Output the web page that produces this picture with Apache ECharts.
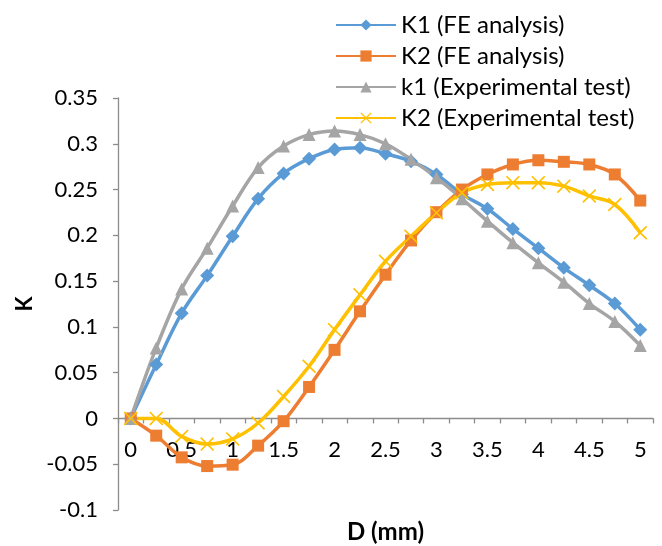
<!DOCTYPE html>
<html>
<head>
<meta charset="utf-8">
<script src="https://cdn.jsdelivr.net/npm/echarts@6/dist/echarts.min.js"></script>
<style>
  html, body { margin: 0; padding: 0; background: #fff; }
  #chart { width: 662px; height: 546px; }
</style>
</head>
<body>
<div id="chart"></div>
<script>
// Displacement D (mm), one category per 0.25 mm
const categories = ['0', '0.25', '0.5', '0.75', '1', '1.25', '1.5', '1.75', '2', '2.25', '2.5',
  '2.75', '3', '3.25', '3.5', '3.75', '4', '4.25', '4.5', '4.75', '5'];

const seriesNames = ['K1 (FE analysis)', 'K2 (FE analysis)', 'k1 (Experimental test)', 'K2 (Experimental test)'];

const k1Fe = [0, 0.0588, 0.115, 0.156, 0.199, 0.240, 0.2676, 0.2837, 0.2938, 0.2957, 0.289,
  0.281, 0.2665, 0.245, 0.229, 0.207, 0.186, 0.1645, 0.1455, 0.1255, 0.097];
const k2Fe = [0, -0.0188, -0.0425, -0.052, -0.0505, -0.0297, -0.003, 0.0344, 0.0749, 0.117, 0.157,
  0.1944, 0.2253, 0.250, 0.2665, 0.2774, 0.282, 0.2803, 0.2774, 0.2665, 0.238];
const k1Exp = [0, 0.077, 0.1415, 0.186, 0.232, 0.274, 0.2975, 0.310, 0.314, 0.310, 0.300,
  0.283, 0.263, 0.240, 0.2155, 0.192, 0.170, 0.1488, 0.1255, 0.106, 0.0796];
const k2Exp = [0, 0.000, -0.0196, -0.028, -0.0224, -0.005, 0.024, 0.057, 0.097, 0.135, 0.1717,
  0.199, 0.2246, 0.2465, 0.2555, 0.2575, 0.2575, 0.2537, 0.243, 0.2337, 0.2028];

const colors = ['#5B9BD5', '#ED7D31', '#A5A5A5', '#FFC000'];
const FONT = 'Lato';

// thin filled cross used as the "x" marker
const crossPath = 'path://M0,1 L1,0 L6,5 L11,0 L12,1 L7,6 L12,11 L11,12 L6,7 L1,12 L0,11 L5,6 Z';

function lineSeries(name, data, color, symbol, size) {
  return {
    name: name,
    type: 'line',
    data: data,
    smooth: 0.35,
    symbol: symbol,
    symbolSize: size,
    showAllSymbol: true,
    lineStyle: { color: color, width: 3.5 },
    itemStyle: { color: color },
    emphasis: { disabled: true },
    animation: false
  };
}

const chart = echarts.init(document.getElementById('chart'), null, { renderer: 'canvas' });

chart.setOption({
  backgroundColor: '#fff',
  color: colors,
  textStyle: { fontFamily: FONT },
  grid: { left: 118, right: 9, top: 98, bottom: 36, containLabel: false, outerBoundsMode: 'none' },
  legend: {
    orient: 'vertical',
    left: 330,
    top: 8,
    itemWidth: 60,
    itemHeight: 14,
    itemGap: 7,
    data: seriesNames,
    textStyle: { fontFamily: FONT, fontSize: 24, lineHeight: 24, color: '#000' }
  },
  xAxis: {
    type: 'category',
    data: categories,
    boundaryGap: true,
    name: 'D (mm)',
    nameLocation: 'middle',
    nameGap: 10,
    nameTextStyle: { fontFamily: FONT, fontSize: 24, fontWeight: 'bold', color: '#000' },
    axisLine: { onZero: true, lineStyle: { color: '#8C8C8C', width: 1.3 } },
    axisTick: { show: true, interval: 0, length: 5, lineStyle: { color: '#8C8C8C', width: 1.3 } },
    // tick labels sit just under the zero line
    axisLabel: { interval: 1, margin: -71, fontFamily: FONT, fontSize: 22, color: '#000' },
    splitLine: { show: false }
  },
  yAxis: {
    type: 'value',
    min: -0.1,
    max: 0.35,
    interval: 0.05,
    name: 'K',
    nameLocation: 'middle',
    nameGap: 79,
    nameRotate: 90,
    nameTextStyle: { fontFamily: FONT, fontSize: 22, fontWeight: 'bold', color: '#000' },
    axisLine: { show: true, lineStyle: { color: '#8C8C8C', width: 1.3 } },
    axisTick: { show: true, length: 5, lineStyle: { color: '#8C8C8C', width: 1.3 } },
    axisLabel: { margin: 20, fontFamily: FONT, fontSize: 22, color: '#000' },
    splitLine: { show: false }
  },
  series: [
    lineSeries(seriesNames[0], k1Fe, colors[0], 'diamond', 14),
    lineSeries(seriesNames[1], k2Fe, colors[1], 'rect', 12),
    lineSeries(seriesNames[2], k1Exp, colors[2], 'triangle', 13),
    lineSeries(seriesNames[3], k2Exp, colors[3], crossPath, 14)
  ]
});
</script>
</body>
</html>
